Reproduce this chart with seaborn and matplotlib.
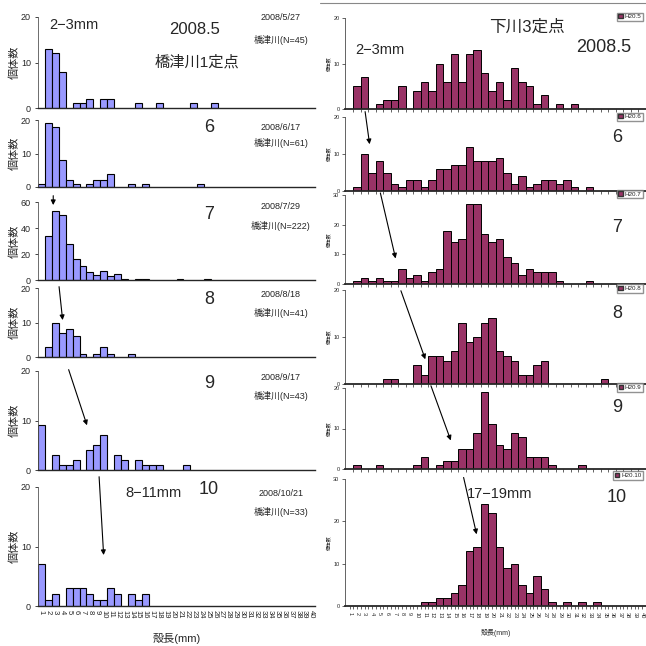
import matplotlib
matplotlib.use("Agg")
import matplotlib.pyplot as plt
from matplotlib.patches import Patch
import seaborn as sns

sns.set_style("ticks")
plt.rcParams['font.family'] = ['Liberation Sans', 'Noto Sans CJK JP', 'DejaVu Sans']

# size bins (mm)
all_bins = list(range(1, 41))

# 橋津川1定点 (left column)
l1_bins = [2, 3, 4, 6, 7, 8, 10, 11, 15, 18, 23, 26]
l1_cnt = [13, 12, 8, 1, 1, 2, 2, 2, 1, 1, 1, 1]
l2_bins = [1, 2, 3, 4, 5, 6, 8, 9, 10, 11, 14, 16, 24]
l2_cnt = [1, 19, 18, 8, 2, 1, 1, 2, 2, 4, 1, 1, 1]
l3_bins = [2, 3, 4, 5, 6, 7, 8, 9, 10, 11, 12, 13, 15, 16, 21, 25]
l3_cnt = [34, 53, 50, 28, 16, 11, 6, 4, 7, 3, 5, 1, 1, 1, 1, 1]
l4_bins = [2, 3, 4, 5, 6, 7, 9, 10, 11, 14]
l4_cnt = [3, 10, 7, 8, 6, 1, 1, 3, 1, 1]
l5_bins = [1, 3, 4, 5, 6, 8, 9, 10, 12, 13, 15, 16, 17, 18, 22]
l5_cnt = [9, 3, 1, 1, 2, 4, 5, 7, 3, 2, 2, 1, 1, 1, 1]
l6_bins = [1, 2, 3, 5, 6, 7, 8, 9, 10, 11, 12, 14, 15, 16]
l6_cnt = [7, 1, 2, 3, 3, 3, 2, 1, 1, 3, 2, 2, 1, 2]

# 下川3定点 (right column)
r1_bins = [2, 3, 5, 6, 7, 8, 10, 11, 12, 13, 14, 15, 16, 17, 18, 19, 20, 21, 22, 23, 24, 25, 26, 27, 29, 31]
r1_cnt = [5, 7, 1, 2, 2, 5, 4, 6, 4, 10, 6, 12, 6, 12, 13, 8, 4, 6, 2, 9, 6, 5, 1, 3, 1, 1]
r2_bins = [2, 3, 4, 5, 6, 7, 8, 9, 10, 11, 12, 13, 14, 15, 16, 17, 18, 19, 20, 21, 22, 23, 24, 25, 26, 27, 28, 29, 30, 31, 33]
r2_cnt = [1, 10, 5, 8, 5, 2, 1, 3, 3, 1, 3, 6, 6, 7, 7, 12, 8, 8, 8, 9, 5, 2, 4, 1, 2, 3, 3, 2, 3, 1, 1]
r3_bins = [2, 3, 4, 5, 6, 7, 8, 9, 10, 11, 12, 13, 14, 15, 16, 17, 18, 19, 20, 21, 22, 23, 24, 25, 26, 27, 28, 29, 33]
r3_cnt = [1, 2, 1, 2, 1, 1, 5, 2, 3, 1, 4, 5, 18, 14, 15, 27, 27, 17, 14, 15, 9, 7, 3, 5, 4, 4, 4, 1, 1]
r4_bins = [6, 7, 10, 11, 12, 13, 14, 15, 16, 17, 18, 19, 20, 21, 22, 23, 24, 25, 26, 27, 35]
r4_cnt = [1, 1, 4, 2, 6, 6, 5, 7, 13, 9, 10, 13, 14, 7, 6, 5, 2, 2, 4, 5, 1]
r5_bins = [2, 5, 10, 11, 13, 14, 15, 16, 17, 18, 19, 20, 21, 22, 23, 24, 25, 26, 27, 28, 32]
r5_cnt = [1, 1, 1, 3, 1, 2, 2, 5, 5, 9, 19, 11, 6, 5, 9, 8, 3, 3, 3, 1, 1]
r6_bins = [11, 12, 13, 14, 15, 16, 17, 18, 19, 20, 21, 22, 23, 24, 25, 26, 27, 28, 30, 32, 34]
r6_cnt = [1, 1, 2, 2, 3, 5, 13, 14, 24, 22, 14, 9, 10, 5, 3, 7, 4, 1, 1, 1, 1]

left_months = ["2008.5", "6", "7", "8", "9", "10"]
left_dates = ["2008/5/27", "2008/6/17", "2008/7/29", "2008/8/18", "2008/9/17", "2008/10/21"]
left_n = [45, 61, 222, 41, 43, 33]
right_months = ["2008.5", "6", "7", "8", "9", "10"]
right_legend = ["H20.5", "H20.6", "H20.7", "H20.8", "H20.9", "H20.10"]

W = H = 646
fig = plt.figure(figsize=(6.46, 6.46), dpi=100)


def fx(px):
    return px / W


def fy(py):
    return 1 - py / H


def make_ax(x0, x1, ytop, yzero):
    return fig.add_axes([fx(x0), fy(yzero), fx(x1 - x0), (yzero - ytop) / H])


left_data = [(l1_bins, l1_cnt), (l2_bins, l2_cnt), (l3_bins, l3_cnt),
             (l4_bins, l4_cnt), (l5_bins, l5_cnt), (l6_bins, l6_cnt)]
right_data = [(r1_bins, r1_cnt), (r2_bins, r2_cnt), (r3_bins, r3_cnt),
              (r4_bins, r4_cnt), (r5_bins, r5_cnt), (r6_bins, r6_cnt)]

left_zero = [108, 187, 280, 357, 470, 606]
left_top = [17, 120, 202, 288, 371, 487]
left_ymax = [20, 20, 60, 20, 20, 20]
right_zero = [109, 191, 284, 384, 469, 606]
right_top = [18, 117, 195, 290, 388, 479]
right_ymax = [20, 20, 30, 20, 20, 30]

left_axes = []
for i, (b, c) in enumerate(left_data):
    ax = make_ax(38, 315, left_top[i], left_zero[i])
    sns.barplot(x=b, y=c, native_scale=True, width=1, color="#9999FF", saturation=1,
                edgecolor="black", linewidth=0.8, errorbar=None, ax=ax)
    ax.set_xlim(0.5, 40.5)
    ax.set_ylim(0, left_ymax[i])
    ticks = [0, 10, 20] if left_ymax[i] == 20 else [0, 20, 40, 60]
    ax.set_yticks(ticks)
    ax.set_yticklabels([str(t) for t in ticks])
    ax.tick_params(axis="y", labelsize=6.5, length=2, width=0.6, pad=3)
    ax.set_ylabel("個体数", fontsize=8, labelpad=1)
    sns.despine(ax=ax)
    ax.spines["left"].set_linewidth(0.6)
    ax.spines["left"].set_color("#555555")
    ax.spines["bottom"].set_linewidth(1.0)
    if i < 5:
        ax.set_xticks([])
        ax.set_xlabel("")
    else:
        ax.set_xticks(all_bins)
        ax.set_xticklabels([str(v) for v in all_bins], rotation=-90, fontsize=5.5)
        ax.tick_params(axis="x", length=0, pad=3)
        ax.set_xlabel("殻長(mm)", fontsize=8, labelpad=10)
    left_axes.append(ax)

right_axes = []
for i, (b, c) in enumerate(right_data):
    ax = make_ax(345, 646, right_top[i], right_zero[i])
    sns.barplot(x=b, y=c, native_scale=True, width=1, color="#993366", saturation=1,
                edgecolor="black", linewidth=0.7, errorbar=None, ax=ax)
    ax.set_xlim(0.37, 40.5)
    ax.set_ylim(0, right_ymax[i])
    ax.set_yticks(list(range(0, right_ymax[i] + 1, 10)))
    ax.set_yticklabels([str(t) for t in range(0, right_ymax[i] + 1, 10)])
    ax.tick_params(axis="y", labelsize=4, length=2, width=0.5, pad=2)
    ax.set_ylabel("個体数", fontsize=3.5, labelpad=1)
    ax.set_xticks([v + 0.5 for v in all_bins], minor=True)
    ax.tick_params(axis="x", which="minor", length=2, width=0.5)
    sns.despine(ax=ax)
    ax.spines["left"].set_linewidth(0.5)
    ax.spines["bottom"].set_linewidth(1.3)
    ax.legend(handles=[Patch(facecolor="#993366", edgecolor="#333333", label=right_legend[i])],
              loc="upper right", bbox_to_anchor=(0.99, 1.06), fontsize=4.5, frameon=True,
              fancybox=False, edgecolor="#777777", borderpad=0.25, handlelength=0.7,
              handleheight=0.7, handletextpad=0.3, borderaxespad=0)
    if i < 5:
        ax.set_xticks([])
        ax.set_xlabel("")
    else:
        ax.set_xticks(all_bins)
        ax.set_xticklabels([str(v) for v in all_bins], rotation=-90, fontsize=4)
        ax.tick_params(axis="x", which="major", length=2, width=0.5, pad=2)
        ax.set_xlabel("殻長(mm)", fontsize=5, labelpad=8)
    right_axes.append(ax)

# frame line at the top of the right column
fig.add_artist(plt.Line2D([fx(320), 1], [fy(3), fy(3)], color="#888888", lw=0.8))

# left texts
month_y = [30, 128, 214, 300, 383, 490]
date_y = [18, 127, 207, 295, 377, 493]
n_y = [40, 143, 226, 313, 396, 512]
for i in range(6):
    fs = 13 if i > 0 else 12
    fig.text(fx(209 if i > 0 else 195), fy(month_y[i]), left_months[i], ha="center", va="center", fontsize=fs)
    fig.text(fx(281), fy(date_y[i]), left_dates[i], ha="center", va="center", fontsize=6.5)
    fig.text(fx(281), fy(n_y[i]), f"橋津川(N={left_n[i]})", ha="center", va="center", fontsize=6.5)
fig.text(fx(197), fy(62), "橋津川1定点", ha="center", va="center", fontsize=11)
fig.text(fx(74), fy(25), "2−3mm", ha="center", va="center", fontsize=10.5)
fig.text(fx(153), fy(493), "8−11mm", ha="center", va="center", fontsize=10.5)

# right texts
rmonth_y = [47, 138, 227, 313, 408, 497]
for i in range(6):
    fig.text(fx(617 if i > 0 else 604), fy(rmonth_y[i]), right_months[i], ha="center", va="center", fontsize=13)
fig.text(fx(527), fy(27), "下川3定点", ha="center", va="center", fontsize=12)
fig.text(fx(380), fy(50), "2−3mm", ha="center", va="center", fontsize=10.5)
fig.text(fx(500), fy(494), "17−19mm", ha="center", va="center", fontsize=10.5)

# arrows: (target axes, head xy, source axes, tail xy)
arrow_style = dict(arrowstyle="-|>", color="black", lw=0.8, mutation_scale=7)
left_arrows = [
    (2, (2.7, 55.5), 2, (2.7, 67)),
    (3, (4.1, 9.9), 2, (3.5, -3)),
    (4, (7.7, 8.5), 3, (4.8, -2.9)),
    (5, (10.0, 8.1), 4, (9.3, -0.8)),
]
right_arrows = [
    (1, (3.7, 11.9), 1, (3.0, 22.2)),
    (2, (7.2, 7.7), 2, (5.0, 31.6)),
    (3, (11.2, 4.7), 3, (7.7, 20.4)),
    (4, (14.6, 6.4), 4, (11.7, 21.2)),
    (5, (18.0, 16.3), 5, (16.1, 31)),
]
for t, head, s, tail in left_arrows:
    left_axes[t].annotate("", xy=head, xytext=tail, textcoords=left_axes[s].transData,
                          arrowprops=arrow_style, annotation_clip=False)
for t, head, s, tail in right_arrows:
    right_axes[t].annotate("", xy=head, xytext=tail, textcoords=right_axes[s].transData,
                           arrowprops=arrow_style, annotation_clip=False)

fig.savefig("out.png", dpi=100)
